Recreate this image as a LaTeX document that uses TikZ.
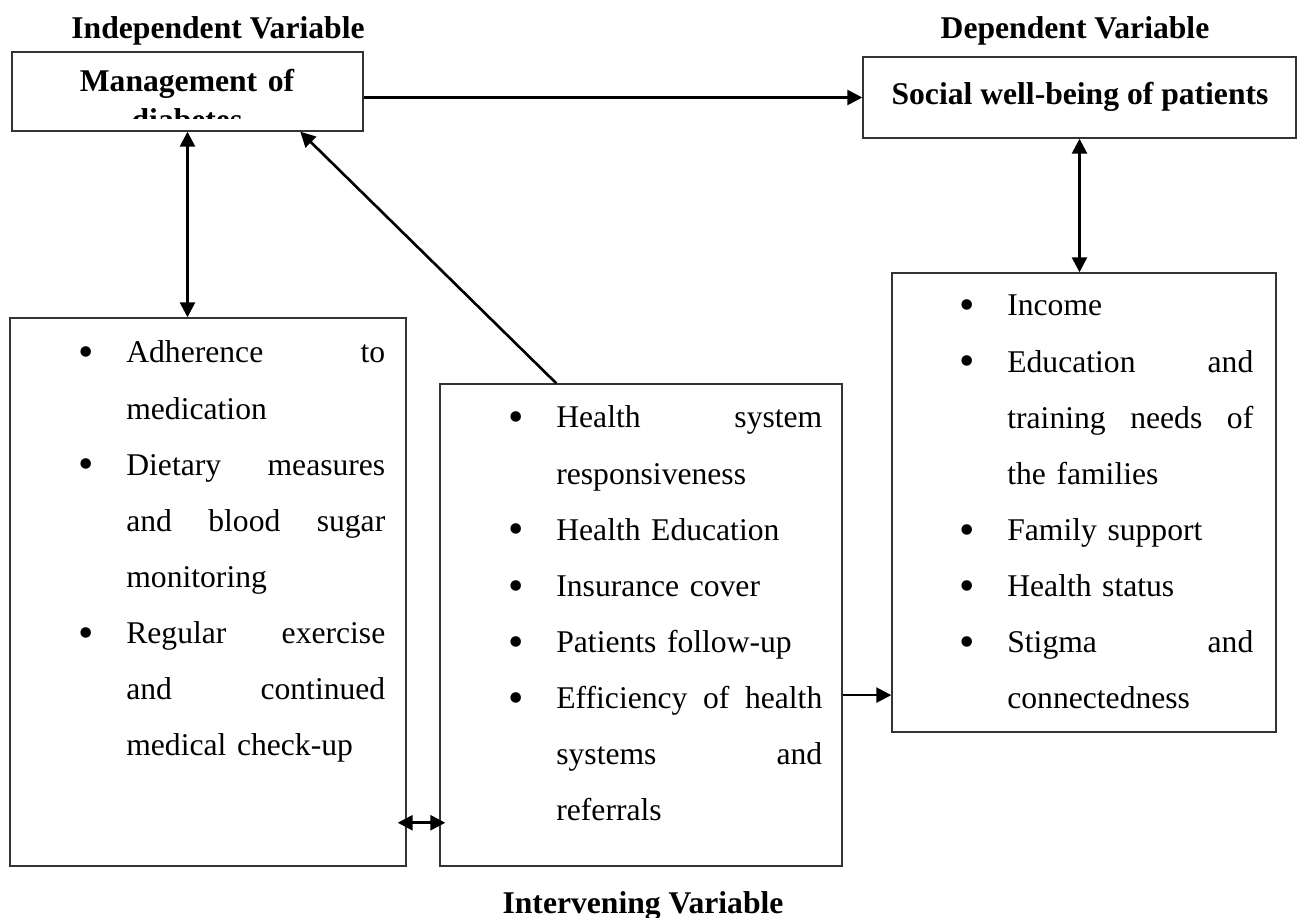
\documentclass[tikz,border=0pt]{standalone}
\usepackage{fontspec}
\setmainfont{Liberation Serif}
\usetikzlibrary{arrows.meta,fit,calc}
\tikzset{
  varbox/.style={draw=black!80,line width=0.8pt,inner sep=0pt},
  varlabel/.style={font=\fontsize{18}{22}\selectfont\bfseries,inner sep=0pt},
  itemlist/.style={font=\fontsize{18}{31.9}\selectfont,inner sep=0pt,anchor=base west},
  link/.style={line width=1.5pt}
}
\newcommand{\bul}{\leavevmode\llap{\raisebox{-2.2pt}{\fontsize{25}{25}\selectfont\textbullet}\hspace{0.64cm}}}
\begin{document}
\begin{tikzpicture}[x=0.02cm,y=-0.02cm,>={Triangle[length=0.3cm,width=0.3cm]}]
\useasboundingbox (0,0) rectangle (1302,918);
% headings
\node[varlabel,anchor=base] (indep) at (218,39) {Independent Variable};
\node[varlabel,anchor=base] (dep) at (1075,39) {Dependent Variable};
\node[varlabel,anchor=base] (interv) at (643,913) {Intervening Variable};
% boxes
\node[varbox,fit={(12,52) (363,131)}] (mgmt) {};
\node[varbox,fit={(863,57) (1296,138)}] (social) {};
\node[varbox,fit={(10,318) (406,866)}] (factors) {};
\node[varbox,fit={(440,384) (842,866)}] (system) {};
\node[varbox,fit={(892,273) (1276,732)}] (wellbeing) {};
% box texts
\begin{scope}
\clip (mgmt.north west) rectangle ($(mgmt.south east)+(0,-13)$);
\node[varlabel,anchor=base,text width=7cm,align=center] (mgmttext) at (187,92) {Management of\\diabetes};
\end{scope}
\node[varlabel,anchor=base] (socialtext) at (1080,105) {Social well-being of patients};
\node[itemlist,text width=5.18cm] (factorlist) at (126,363) {%
\bul Adherence\hfill to\\medication\par
\bul Dietary\hfill measures\\and\hfill blood\hfill sugar\\monitoring\par
\bul Regular\hfill exercise\\and\hfill continued\\medical check-up};
\node[itemlist,text width=5.32cm] (systemlist) at (556,428) {%
\bul Health\hfill system\\responsiveness\par
\bul Health Education\par
\bul Insurance cover\par
\bul Patients follow-up\par
\bul Efficiency\hfill of\hfill health\\systems\hfill and\\referrals};
\node[itemlist,text width=4.92cm] (welllist) at (1007,316) {%
\bul Income\par
\bul Education\hfill and\\training\hfill needs\hfill of\\the families\par
\bul Family support\par
\bul Health status\par
\bul Stigma\hfill and\\connectedness};
% arrows
\draw[link,->] (mgmt.east |- social.west) -- (social.west);
\draw[link,<->] (mgmt.south) -- (mgmt.south |- factors.north);
\draw[link,<->] (social.south) -- (social.south |- wellbeing.north);
\draw[link,->] ($(system.north west)!0.29!(system.north east)$) -- ($(mgmt.south west)!0.82!(mgmt.south east)$);
\coordinate (sysout) at ($(system.north east)!0.645!(system.south east)$);
\draw[link,->] (sysout) -- (sysout -| wellbeing.west);
\coordinate (factout) at ($(factors.north east)!0.92!(factors.south east)$);
\draw[link,<->,shorten <=-0.18cm,shorten >=-0.12cm] (factout) -- (factout -| system.west);
\end{tikzpicture}
\end{document}
